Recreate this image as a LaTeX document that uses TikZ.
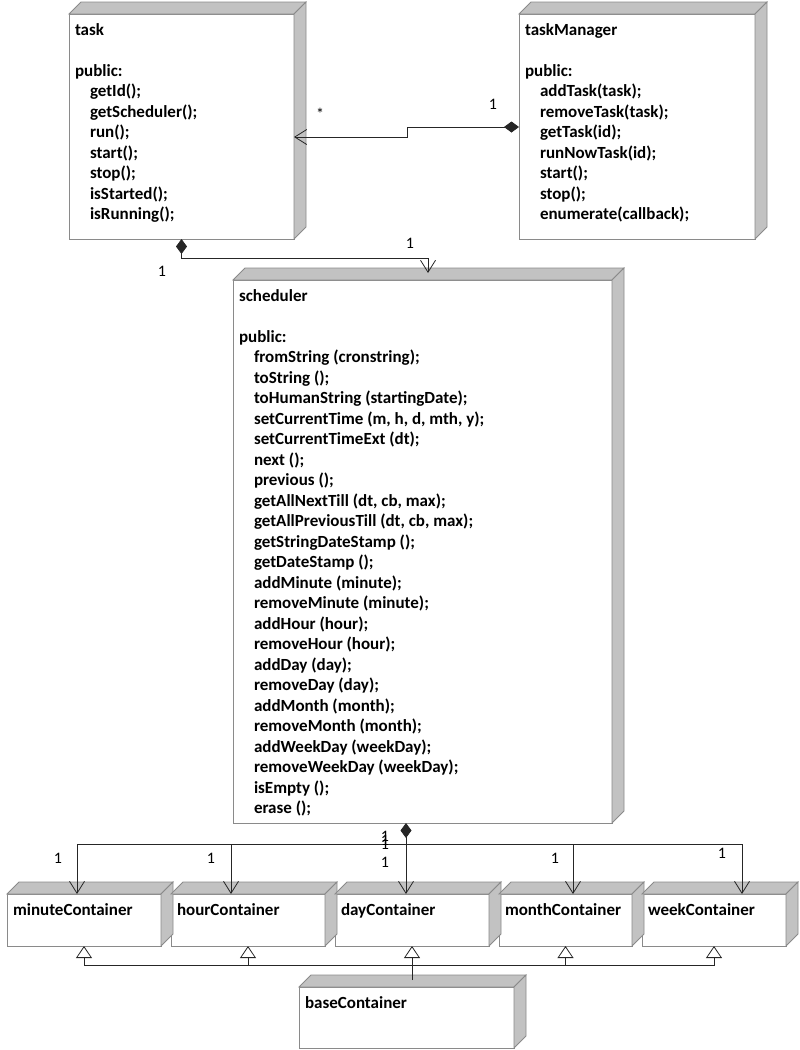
\documentclass[tikz,border=0pt]{standalone}
\usepackage{fontspec}
\setmainfont{Carlito}
\usetikzlibrary{arrows.meta,calc,positioning}
\definecolor{edge}{HTML}{8A8A8A}
\definecolor{face}{HTML}{C2C2C2}
\definecolor{wire}{HTML}{262626}
\newcommand{\members}[3]{\parbox[t][#2][t]{#1}{\raggedright #3}}
\newcommand{\op}[1]{\\\hspace*{15pt}#1}

\begin{document}
\begin{tikzpicture}[x=1pt, y=-1pt, node distance=10pt,
      every node/.style={font=\fontsize{16}{20.5}\selectfont},
      classbox/.style={draw=edge, line width=0.8pt, fill=white, anchor=north west, inner xsep=6pt, inner ysep=9.5pt,
        outer sep=0pt, font=\fontsize{17}{20.5}\selectfont\bfseries},
      lbl/.style={inner sep=0pt},
      link/.style={draw=wire, line width=0.8pt},
      comp/.style={link, {Diamond[length=15pt,width=11pt]}-{Straight Barb[length=12pt,width=15pt]}},
      nav/.style={link, -{Straight Barb[length=12pt,width=15pt]}},
      inh/.style={link, -{Triangle[open,length=12pt,width=16pt,fill=white]}}]
    \useasboundingbox (0,0) rectangle (800,1050);
    % classes
    \node[classbox] (task) at (69,14) {\members{213pt}{206pt}{task\\[\baselineskip]public:\op{getId();}\op{getScheduler();}\op{run();}\op{start();}\op{stop();}\op{isStarted();}\op{isRunning();}}};
    \node[classbox] (mgr) at (519,14) {\members{224pt}{206pt}{taskManager\\[\baselineskip]public:\op{addTask(task);}\op{removeTask(task);}\op{getTask(id);}\op{runNowTask(id);}\op{start();}\op{stop();}\op{enumerate(callback);}}};
    \node[classbox] (sched) at (233,280) {\members{367pt}{524pt}{scheduler\\[\baselineskip]public:%
      \op{fromString (cronstring);}\op{toString ();}\op{toHumanString (startingDate);}\op{setCurrentTime (m, h, d, mth, y);}%
      \op{setCurrentTimeExt (dt);}\op{next ();}\op{previous ();}\op{getAllNextTill (dt, cb, max);}\op{getAllPreviousTill (dt, cb, max);}%
      \op{getStringDateStamp ();}\op{getDateStamp ();}\op{addMinute (minute);}\op{removeMinute (minute);}\op{addHour (hour);}%
      \op{removeHour (hour);}\op{addDay (day);}\op{removeDay (day);}\op{addMonth (month);}\op{removeMonth (month);}%
      \op{addWeekDay (weekDay);}\op{removeWeekDay (weekDay);}\op{isEmpty ();}\op{erase ();}}};
    \node[classbox] (minute) at (7,894) {\members{142pt}{33pt}{minuteContainer}};
    \node[classbox, right=of minute] (hour) {\members{142pt}{33pt}{hourContainer}};
    \node[classbox, right=of hour] (day) {\members{142pt}{33pt}{dayContainer}};
    \node[classbox, right=of day] (month) {\members{121pt}{33pt}{monthContainer}};
    \node[classbox, right=of month] (week) {\members{132pt}{33pt}{weekContainer}};
    \node[classbox] (base) at (299,987) {\members{203pt}{42pt}{baseContainer}};
    % 3d faces
    \foreach \n in {task,mgr,sched,minute,hour,day,month,week,base}{
      \filldraw[fill=face, draw=edge, line width=0.8pt] (\n.north west) -- ++(12,-12) -- ($(\n.north east)+(12,-12)$) -- (\n.north east) -- cycle;
      \filldraw[fill=face, draw=edge, line width=0.8pt] (\n.north east) -- ++(12,-12) -- ($(\n.south east)+(12,-12)$) -- (\n.south east) -- cycle;
    }
    % associations
    \draw[comp] ($(mgr.north west)+(0,113)$) -| ++(-112,10) -- ($(task.north east)+(0,123)$);
    \node[lbl] (mgrstar) at (320,114) {*};
    \node[lbl] (mgrone) at (493,104) {1};
    \draw[comp] (task.south) -- ++(0,19) -| ($(sched.north)+(5.5,-7)$);
    \node[lbl] (taskone) at (162,271) {1};
    \node[lbl] (schedone) at (410,243) {1};
    \coordinate (hub) at ($(sched.south)+(-16.5,21)$);
    \draw[comp] ($(sched.south)+(-16.5,0)$) -- ($(day.north)+(-6,0)$);
    \draw[nav] (hub) -| ($(minute.north)+(-7,0)$);
    \draw[nav] (hub) -| ($(hour.north)+(-17,0)$);
    \draw[nav] (hub) -| ($(month.north)+(7.5,0)$);
    \draw[nav] (hub) -| ($(week.north)+(28,0)$);
    \node[lbl] (minuteone) at (58,858) {1};
    \node[lbl] (hourone) at (211,858) {1};
    \node[lbl] (dayonea) at (385,836) {1};
    \node[lbl] (dayoneb) at (385,840) {1};
    \node[lbl] (dayonec) at (385,844) {1};
    \node[lbl] (dayoned) at (385,862) {1};
    \node[lbl] (monthone) at (555,858) {1};
    \node[lbl] (weekone) at (722,853) {1};
    % inheritance
    \coordinate (bus) at ($(day.south)+(0,19)$);
    \draw[inh] ($(day.south |- base.north)+(0,-7)$) -- (day.south);
    \draw[inh] (bus) -| (minute.south);
    \draw[inh] (bus) -| (hour.south);
    \draw[inh] (bus) -| (month.south);
    \draw[inh] (bus) -| (week.south);
  \end{tikzpicture}
\end{document}
